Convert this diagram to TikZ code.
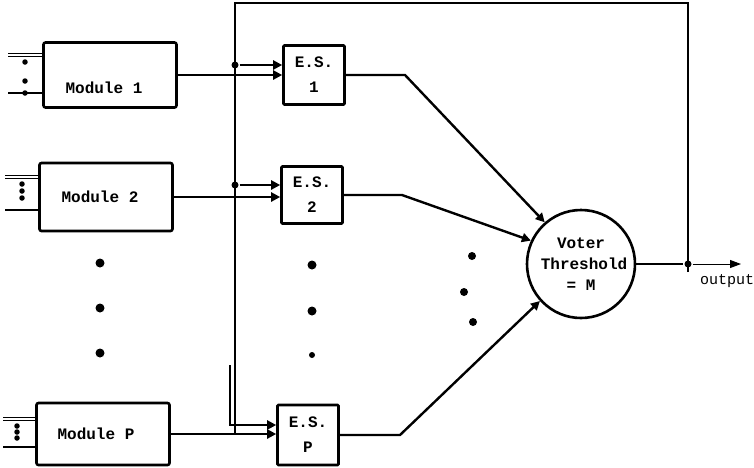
\documentclass[tikz,border=0pt]{standalone}
\usepackage{fontspec}
\setmonofont{Liberation Mono}
\usetikzlibrary{positioning, arrows.meta}

\begin{document}
\begin{tikzpicture}[
  x=1pt, y=-1pt,
  font=\ttfamily\bfseries\fontsize{16}{21}\selectfont,
  line width=2.4pt,
  module/.style={draw, line width=2.6pt, rounded corners=2pt, minimum width=133pt, minimum height=65pt, inner sep=0pt},
  esbox/.style={draw, line width=2.6pt, rounded corners=1pt, minimum width=61pt, minimum height=59pt, align=center, inner sep=0pt},
  voter/.style={draw, line width=2.6pt, circle, minimum size=108pt, align=center, inner sep=0pt},
  bigdot/.style={circle, fill, inner sep=0pt, minimum size=9pt},
  smalldot/.style={circle, fill, inner sep=0pt, minimum size=5.5pt},
  junc/.style={circle, fill, inner sep=0pt, minimum size=7pt},
  bundle/.style={double, double distance=2pt, line width=1.3pt},
  into/.style={-{Triangle[length=9pt,width=9pt]}}
]
  \useasboundingbox (0,0) rectangle (754,467);

  % Modules
  \node[module, label={[xshift=-6pt, yshift=-13pt]center:Module 1}] (mod1) at (110,75) {};
  \node[module, minimum height=68pt] (mod2) at (106,197) {\hspace*{-12pt}Module 2};
  \node[module, minimum height=62pt] (modP) at (103,434) {\hspace*{-14pt}Module P};

  % Module inputs
  \coordinate (in1a) at (8,55);
  \coordinate (in1b) at (8,93);
  \draw[bundle] (in1a) -- (in1a -| mod1.west);
  \draw (in1b) -- (in1b -| mod1.west);
  \foreach \y in {62,81,93} { \node[smalldot] (m1d\y) at (25,\y) {}; }

  \coordinate (in2a) at (5,177);
  \coordinate (in2b) at (5,210);
  \draw[bundle] (in2a) -- (in2a -| mod2.west);
  \draw (in2b) -- (in2b -| mod2.west);
  \foreach \y in {184,191,198} { \node[smalldot] (m2d\y) at (22,\y) {}; }

  \coordinate (inPa) at (3,419);
  \coordinate (inPb) at (3,447);
  \draw[bundle] (inPa) -- (inPa -| modP.west);
  \draw (inPb) -- (inPb -| modP.west);
  \foreach \y in {426,432,438} { \node[smalldot] (mPd\y) at (17,\y) {}; }

  % E.S. boxes
  \node[esbox] (es1) at (314,75) {E.S.\\[4pt]1};
  \node[esbox, minimum height=57pt] (es2) at (312,195) {E.S.\\[4pt]2};
  \node[esbox, minimum height=60pt] (esP) at (308,435) {E.S.\\[4pt]P};

  % Voter
  \node[voter] (vote) at (581,264) {Voter\\\hspace*{6pt}Threshold\\= M};

  % Ellipsis dots
  \foreach \y in {263,308,353} { \node[bigdot] (md\y) at (100,\y) {}; }
  \node[bigdot] (ed1) at (312,265) {};
  \node[bigdot] (ed2) at (312,311) {};
  \node[bigdot, minimum size=6pt] (ed3) at (312,355) {};
  \node[bigdot, minimum size=8pt] (vd1) at (472,256) {};
  \node[bigdot, minimum size=8pt] (vd2) at (464,292) {};
  \node[bigdot, minimum size=8pt] (vd3) at (473,322) {};

  % Feedback bus
  \node[junc] (outj) at (688,264) {};
  \coordinate (fbend) at (688,272);
  \coordinate (fbtop) at (688,3);
  \coordinate (bustop) at (235,3);
  \coordinate (busend) at (235,434);
  \draw (fbend) -- (fbtop) -- (bustop) -- (busend);

  % E.S. inputs
  \node[junc] (b1) at (235,65) {};
  \draw[into] (b1) -- (b1 -| es1.west);
  \draw[into] (mod1.east) -- (mod1.east -| es1.west);

  \node[junc] (b2) at (235,185) {};
  \draw[into] (b2) -- (b2 -| es2.west);
  \draw[into] (mod2.east) -- (mod2.east -| es2.west);

  \coordinate (bP) at (230,365);
  \coordinate (bPin) at (230,425);
  \draw[into] (bP) -- (bPin) -- (bPin -| esP.west);
  \draw[into] (modP.east) -- (modP.east -| esP.west);

  % E.S. outputs to voter
  \coordinate (k1) at (405,75);
  \coordinate (k2) at (402,195);
  \coordinate (k3) at (400,435);
  \draw[into] (es1.east) -- (k1) -- (vote.131);
  \draw[into] (es2.east) -- (k2) -- (vote.155);
  \draw[into] (esP.east) -- (k3) -- (vote.222);

  % Output
  \draw (vote.east) -- (outj);
  \coordinate (outtip) at (741,264);
  \draw[line width=1pt, -{Triangle[length=11pt,width=8pt]}] (outj) -- (outtip);
  \node[anchor=west, inner sep=0pt, font=\ttfamily\fontsize{15}{18}\selectfont] (outlbl) at (699,281) {output};
\end{tikzpicture}
\end{document}
